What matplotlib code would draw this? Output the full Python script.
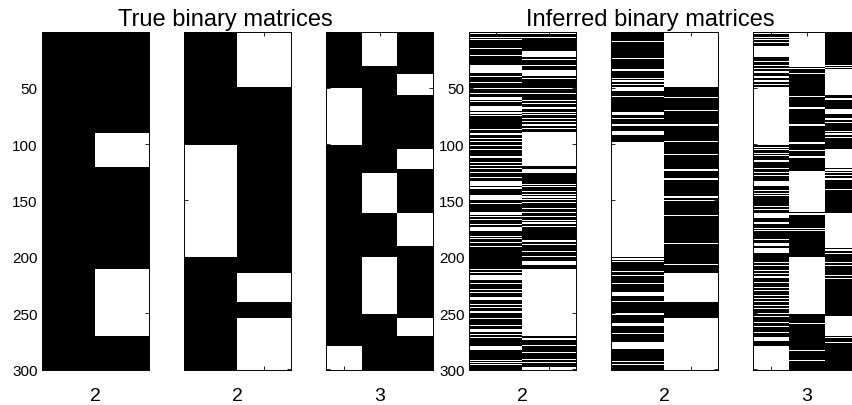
import numpy as np
import matplotlib.pyplot as plt

plt.rcParams['font.family'] = ['Liberation Sans', 'DejaVu Sans']

n_rows = 300
yticks = [50, 100, 150, 200, 250, 300]
group_titles = ['True binary matrices', 'Inferred binary matrices']
panel_labels = ['2', '2', '3', '2', '2', '3']

# white rows per column (1-based, inclusive); an int is a single row
true_1 = [
    [],
    [(91, 120), (211, 270)],
]
true_2 = [
    [(101, 200)],
    [(1, 49), (215, 240), (255, 300)],
]
true_3 = [
    [(51, 100), (280, 300)],
    [(1, 30), (126, 161), (201, 250)],
    [(38, 56), (105, 122), (162, 190), (255, 270)],
]

inferred_1 = [
    [(1, 2), 5, 7, 15, 21, (30, 36), 40, 45, 51, 55, (59, 60), 62, (67, 70), 72,
     73, 75, 87, 91, 95, 98, 101, 105, (111, 112), 116, 119, 122, 125, 130,
     (133, 137), 139, (146, 149), 153, (161, 162), 164, 167, 171, (174, 177),
     182, 184, 187, 191, 211, 214, (217, 220), 224, 229, 232, (236, 238), 242,
     245, 249, 255, 261, (265, 266), 269, 272, (280, 282), 292, 294, 296],
    [(1, 2), 5, (18, 22), 25, 30, (35, 39), 42, 51, 55, 61, 64, 68, 72, 74, 77,
     80, 83, 86, (90, 119), (123, 125), 136, 138, 142, 145, 147, 149, 152, 157,
     161, 164, 168, 170, 173, 186, 189, 195, 200, (204, 207), (211, 270), 273,
     279, 285, 291, 294, (298, 300)],
]
inferred_2 = [
    [9, 24, (34, 35), 42, 44, 47, (50, 52), 58, (72, 74), 77, 83, (89, 91),
     (99, 200), 202, 204, 213, 217, 224, (232, 234), 240, (250, 251),
     (259, 261), 268, (276, 281), 293, 296],
    [(1, 49), 59, 70, 83, 98, 109, 123, 131, 147, 150, 163, 188, 207,
     (215, 240), (255, 300)],
]
inferred_3 = [
    [(1, 2), 5, 7, 10, (13, 22), 27, 30, 33, 36, (40, 41), 44, 47, (50, 100),
     103, 105, 108, 110, 115, 122, 125, 128, (133, 137), 141, 144, 146, 155,
     158, (162, 165), 170, 175, 177, 185, (188, 190), (193, 196), 205, 208,
     212, 215, 218, 223, 227, 230, 234, 237, 240, 243, 246, 250, 253, 258,
     262, 267, (272, 274), (280, 300)],
    [(1, 31), 33, 37, 58, 68, 83, 99, 106, (111, 112), (124, 160), 162, 175,
     177, (201, 250), 259, 283, 292],
    [30, 32, (34, 56), 60, (69, 73), 77, 78, 81, 89, 91, 94, (105, 121), 123,
     125, 128, 131, 140, (162, 192), 194, 197, 205, 208, 217, 219, (253, 270),
     272, 276],
]

matrices = [true_1, true_2, true_3, inferred_1, inferred_2, inferred_3]


def to_matrix(cols):
    m = np.zeros((n_rows, len(cols)))
    for j, runs in enumerate(cols):
        for r in runs:
            a, b = (r, r) if isinstance(r, int) else r
            m[a - 1:b, j] = 1
    return m


W, H = 852, 406
fig = plt.figure(figsize=(W / 100, H / 100), dpi=100)
lefts = [42, 184, 326, 469, 611, 753]

for i, cols in enumerate(matrices):
    m = to_matrix(cols)
    k = m.shape[1]
    ax = fig.add_axes([lefts[i] / W, 35 / H, 107 / W, 338 / H])
    ax.imshow(m, cmap='gray', vmin=0, vmax=1, aspect='auto',
              interpolation='nearest', extent=(0.5, k + 0.5, n_rows + 0.5, 0.5))
    ax.set_xticks(range(1, k + 1))
    ax.set_xticklabels([])
    ax.set_yticks(yticks)
    if i % 3 != 0:
        ax.set_yticklabels([])
    ax.tick_params(direction='in', top=True, right=True, length=3, width=0.6,
                   labelsize=11, pad=3)
    for s in ax.spines.values():
        s.set_linewidth(0.7)
    ax.set_xlabel(panel_labels[i], fontsize=14, labelpad=9)

fig.text(225 / W, 1 - 26 / H, group_titles[0], fontsize=17, ha='center', va='baseline')
fig.text(650 / W, 1 - 26 / H, group_titles[1], fontsize=17, ha='center', va='baseline')

fig.savefig('out.png', dpi=100)
